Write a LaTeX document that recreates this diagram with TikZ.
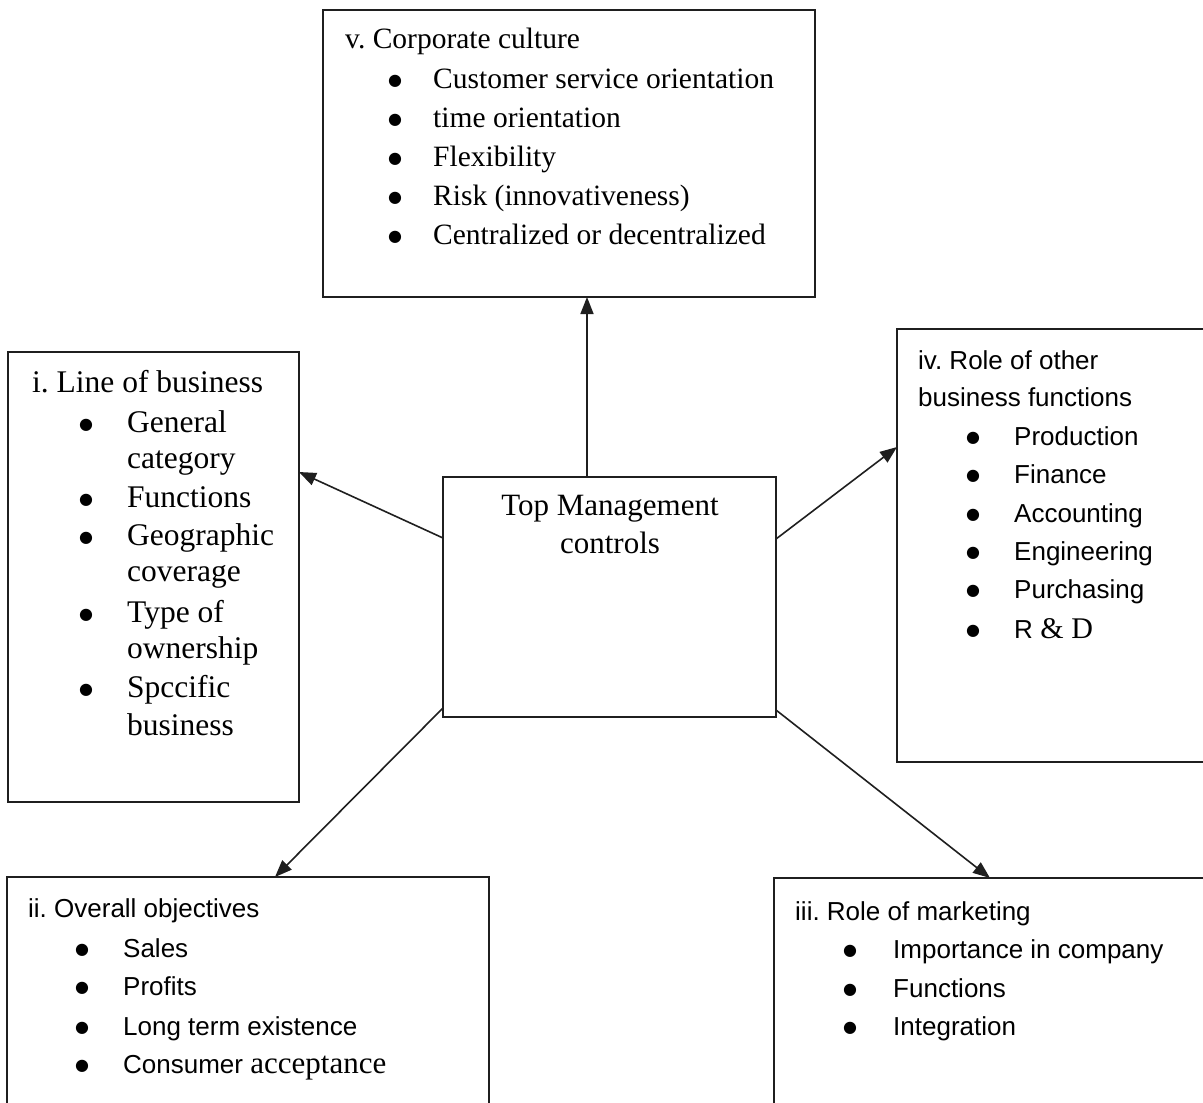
\documentclass[tikz,border=0pt]{standalone}
\usepackage{fontspec}
\setmainfont{Liberation Serif}
\setsansfont{Liberation Sans}
\newfontfamily\dejavu{DejaVu Sans}
\usetikzlibrary{arrows.meta}
\newcommand\bul[1]{\makebox[0pt][c]{\raisebox{3pt}{\dejavu\fontsize{16}{16}\selectfont ●}}\hspace{#1}}
\frenchspacing
\begin{document}
\frenchspacing
\begin{tikzpicture}[x=1pt,y=-1pt,
  box/.style={draw=black!88, line width=1.6pt, inner sep=0pt, outer sep=0pt},
  arr/.style={draw=black!88, line width=1.6pt, -{Triangle[length=17pt,width=13pt]}},
  rmV/.style={anchor=base west, inner sep=0pt, font=\rmfamily\fontsize{29.5}{35}\selectfont},
  rmI/.style={anchor=base west, inner sep=0pt, font=\rmfamily\fontsize{31.5}{37}\selectfont},
  rmC/.style={anchor=base, inner sep=0pt, font=\rmfamily\fontsize{31}{37}\selectfont},
  sfT/.style={anchor=base west, inner sep=0pt, font=\sffamily\fontsize{26}{31}\selectfont},
]
\useasboundingbox (0,0) rectangle (1203,1103);
\fill[white] (0,0) rectangle (1203,1103);
\clip (0,0) rectangle (1203,1103);

% boxes
\node[box, minimum width=333pt, minimum height=240pt] (c) at (609.5,597) {};
\node[box, minimum width=492pt, minimum height=287pt] (v) at (569,153.5) {};
\node[box, minimum width=291pt, minimum height=450pt] (i) at (153.5,577) {};
\node[box, minimum width=318pt, minimum height=433pt] (iv) at (1056,545.5) {};
\node[box, minimum width=482pt, minimum height=243pt] (ii) at (248,998.5) {};
\node[box, minimum width=441pt, minimum height=242pt] (iii) at (994.5,999) {};

% arrows
\draw[arr] ([xshift=144pt]c.north west) -- ([xshift=264pt]v.south west);
\draw[arr] ([yshift=-61pt]c.north west) -- ([yshift=-120pt]i.north east);
\draw[arr] ([yshift=-62pt]c.north east) -- ([yshift=-118pt]iv.north west);
\draw[arr] ([yshift=9pt]c.south west) -- ([xshift=268pt]ii.north west);
\draw[arr] ([yshift=7pt]c.south east) -- ([xshift=216pt]iii.north west);

% centre
\node[rmC] (ct1) at (610,515) {Top Management};
\node[rmC] (ct2) at (610,553) {controls};

% v. Corporate culture
\node[rmV] (v0) at (345,48) {v. Corporate culture};
\node[rmV] (v1) at (395,88) {\bul{38pt}Customer service orientation};
\node[rmV] (v2) at (395,127) {\bul{38pt}time orientation};
\node[rmV] (v3) at (395,166) {\bul{38pt}Flexibility};
\node[rmV] (v4) at (395,205) {\bul{38pt}Risk (innovativeness)};
\node[rmV] (v5) at (395,244) {\bul{38pt}Centralized or decentralized};

% i. Line of business
\node[rmI] (i0) at (32,392) {i. Line of business};
\node[rmI] (i1) at (86,432) {\bul{41pt}General};
\node[rmI] (i1b) at (127,468) {category};
\node[rmI] (i2) at (86,507) {\bul{41pt}Functions};
\node[rmI] (i3) at (86,545) {\bul{41pt}Geographic};
\node[rmI] (i3b) at (127,581) {coverage};
\node[rmI] (i4) at (86,622) {\bul{41pt}Type of};
\node[rmI] (i4b) at (127,658) {ownership};
\node[rmI] (i5) at (86,697) {\bul{41pt}Spccific};
\node[rmI] (i5b) at (127,735) {business};

% iv. Role of other business functions
\node[sfT] (iv0) at (918,369) {iv. Role of other};
\node[sfT] (iv0b) at (918,406) {business functions};
\node[sfT] (iv1) at (973,445) {\bul{41pt}Production};
\node[sfT] (iv2) at (973,483) {\bul{41pt}Finance};
\node[sfT] (iv3) at (973,522) {\bul{41pt}Accounting};
\node[sfT] (iv4) at (973,560) {\bul{41pt}Engineering};
\node[sfT] (iv5) at (973,598) {\bul{41pt}Purchasing};
\node[sfT] (iv6) at (973,638) {\bul{41pt}R\rmfamily\fontsize{30}{35}\selectfont{} \& D};

% ii. Overall objectives
\node[sfT] (ii0) at (28,917) {ii. Overall objectives};
\node[sfT] (ii1) at (82,957) {\bul{41pt}Sales};
\node[sfT] (ii2) at (82,995) {\bul{41pt}Profits};
\node[sfT] (ii3) at (82,1035) {\bul{41pt}Long term existence};
\node[sfT] (ii4) at (82,1073) {\bul{41pt}Consumer {\rmfamily\fontsize{31}{35}\selectfont acceptance}};

% iii. Role of marketing
\node[sfT] (iii0) at (795,920) {iii. Role of marketing};
\node[sfT] (iii1) at (850,958) {\bul{43pt}Importance in company};
\node[sfT] (iii2) at (850,997) {\bul{43pt}Functions};
\node[sfT] (iii3) at (850,1035) {\bul{43pt}Integration};
\end{tikzpicture}
\end{document}
